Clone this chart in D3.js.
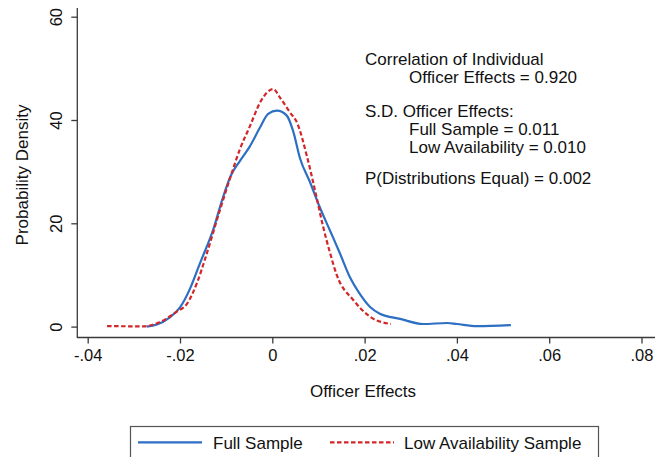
<!DOCTYPE html>
<html>
<head>
<meta charset="utf-8">
<style>
    body {
        margin: 0;
        background: white;
        font-family: "Liberation Sans", Arial, Helvetica, sans-serif;
    }
    svg text {
        fill: #111;
    }
</style>
<script src="https://cdn.jsdelivr.net/npm/d3@7/dist/d3.min.js"></script>
</head>
<body>
<svg id="chart"></svg>

<script>
    // kernel density: officer effect vs probability density
    let fullX = [-0.0272, -0.0250, -0.0222, -0.0200, -0.0178, -0.0157, -0.0128, -0.0107, -0.0090, -0.0070,
                 -0.0048, -0.0027, -0.0009, 0.0010, 0.0031, 0.0045, 0.0060, 0.0082, 0.0102, 0.0124,
                 0.0146, 0.0168, 0.0190, 0.0212, 0.0233, 0.0277, 0.0327, 0.0379, 0.0400, 0.0444, 0.0517]
    let fullY = [0, 0.4, 1.8, 3.7, 7.4, 12.2, 18.8, 25.0, 29.2, 32.1,
                 35.0, 38.5, 41.2, 41.8, 40.9, 37.9, 32.6, 27.9, 23.3, 18.8,
                 14.3, 9.6, 6.3, 3.8, 2.5, 1.5, 0.5, 0.7, 0.5, 0.1, 0.3]

    let lowX = [-0.0358, -0.0280, -0.0243, -0.0207, -0.0185, -0.0163, -0.0146, -0.0113, -0.0085, -0.0070,
                -0.0048, -0.0027, 0.0002, 0.0017, 0.0038, 0.0054, 0.0075, 0.0097, 0.0110, 0.0125,
                0.0140, 0.0175, 0.0212, 0.0257]
    let lowY = [0.1, 0.05, 0.9, 2.9, 4.4, 8.5, 13.0, 22.7, 30.5, 34.4,
                38.9, 43.3, 46.0, 44.3, 41.5, 39.4, 33.0, 24.6, 19.4, 14.3,
                9.9, 5.2, 1.9, 0.5]

    let xTicks = [-0.04, -0.02, 0, 0.02, 0.04, 0.06, 0.08]
    let xTickLabels = ["-.04", "-.02", "0", ".02", ".04", ".06", ".08"]
    let yTicks = [0, 20, 40, 60]

    let seriesNames = ["Full Sample", "Low Availability Sample"]
    let noteLines = [
        ["Correlation of Individual", 0],
        ["Officer Effects = 0.920", 1],
        ["S.D. Officer Effects:", 0],
        ["Full Sample = 0.011", 1],
        ["Low Availability = 0.010", 1],
        ["P(Distributions Equal) = 0.002", 0]
    ]

    let width = 666, height = 457
    let svg = d3.select("#chart").attr("width", width).attr("height", height)

    let x = d3.scaleLinear().domain([-0.04, 0.08]).range([87.7, 641.5])
    let y = d3.scaleLinear().domain([0, 60]).range([326.6, 16.7])

    let axisColor = "#3a3a3a"
    let blue = "#2d6fc3"
    let red = "#d2262b"

    // x axis
    let xAxis = svg.append("g")
        .attr("transform", "translate(0,337.5)")
        .call(d3.axisBottom(x).tickValues(xTicks).tickSize(6).tickSizeOuter(0)
            .tickFormat((d, i) => xTickLabels[i]))
    xAxis.select(".domain").remove()
    xAxis.append("line").attr("x1", 77).attr("x2", 655).attr("stroke", axisColor).attr("stroke-width", 1.3)
    xAxis.selectAll(".tick line").attr("stroke", axisColor).attr("stroke-width", 1.3)
    xAxis.selectAll(".tick text")
        .attr("y", 23.5).attr("dy", null)
        .style("font-family", "Liberation Sans, Arial, sans-serif")
        .style("font-size", "16.5px").style("fill", "#111")

    // y axis (rotated labels, stata style)
    let yAxis = svg.append("g")
        .attr("transform", "translate(77.3,0)")
        .call(d3.axisLeft(y).tickValues(yTicks).tickSize(6).tickSizeOuter(0))
    yAxis.select(".domain").remove()
    yAxis.append("line").attr("y1", 8).attr("y2", 338).attr("stroke", axisColor).attr("stroke-width", 1.3)
    yAxis.selectAll(".tick line").attr("stroke", axisColor).attr("stroke-width", 1.3)
    yAxis.selectAll(".tick text")
        .attr("x", null).attr("dy", null)
        .attr("transform", "translate(-15,0) rotate(-90)")
        .attr("text-anchor", "middle")
        .style("font-family", "Liberation Sans, Arial, sans-serif")
        .style("font-size", "16.5px").style("fill", "#111")

    // axis titles
    svg.append("text")
        .attr("x", 363).attr("y", 396.5)
        .attr("text-anchor", "middle")
        .style("font-size", "17px")
        .text("Officer Effects")

    svg.append("text")
        .attr("transform", "translate(28,175) rotate(-90)")
        .attr("text-anchor", "middle")
        .style("font-size", "17px")
        .text("Probability Density")

    // curves
    let line = d3.line()
        .x(d => x(d[0]))
        .y(d => y(d[1]))
        .curve(d3.curveMonotoneX)

    let fullData = fullX.map((v, i) => [v, fullY[i]])
    let lowData = lowX.map((v, i) => [v, lowY[i]])

    svg.append("path")
        .datum(fullData)
        .attr("d", line)
        .attr("fill", "none")
        .attr("stroke", blue)
        .attr("stroke-width", 2.2)

    svg.append("path")
        .datum(lowData)
        .attr("d", line)
        .attr("fill", "none")
        .attr("stroke", red)
        .attr("stroke-width", 2.2)
        .attr("stroke-dasharray", "4.5,2.5")

    // note text in the upper right
    let noteBase = [65, 83, 117, 135, 153, 184]
    svg.selectAll("text.note")
        .data(noteLines)
        .enter().append("text")
        .attr("class", "note")
        .attr("x", d => d[1] ? 409 : 365)
        .attr("y", (d, i) => noteBase[i])
        .style("font-size", "17px")
        .text(d => d[0])

    // legend
    let legend = svg.append("g")
    legend.append("rect")
        .attr("x", 130.5).attr("y", 426.5)
        .attr("width", 468).attr("height", 50)
        .attr("fill", "white")
        .attr("stroke", "#555")
        .attr("stroke-width", 1.2)

    legend.append("line")
        .attr("x1", 138).attr("x2", 202).attr("y1", 442.3).attr("y2", 442.3)
        .attr("stroke", blue).attr("stroke-width", 2.2)
    legend.append("text")
        .attr("x", 213).attr("y", 448.5)
        .style("font-size", "17px")
        .text(seriesNames[0])

    legend.append("line")
        .attr("x1", 330).attr("x2", 394).attr("y1", 442.3).attr("y2", 442.3)
        .attr("stroke", red).attr("stroke-width", 2.2)
        .attr("stroke-dasharray", "4.5,2.5")
    legend.append("text")
        .attr("x", 404).attr("y", 448.5)
        .style("font-size", "17px")
        .text(seriesNames[1])
</script>
</body>
</html>
